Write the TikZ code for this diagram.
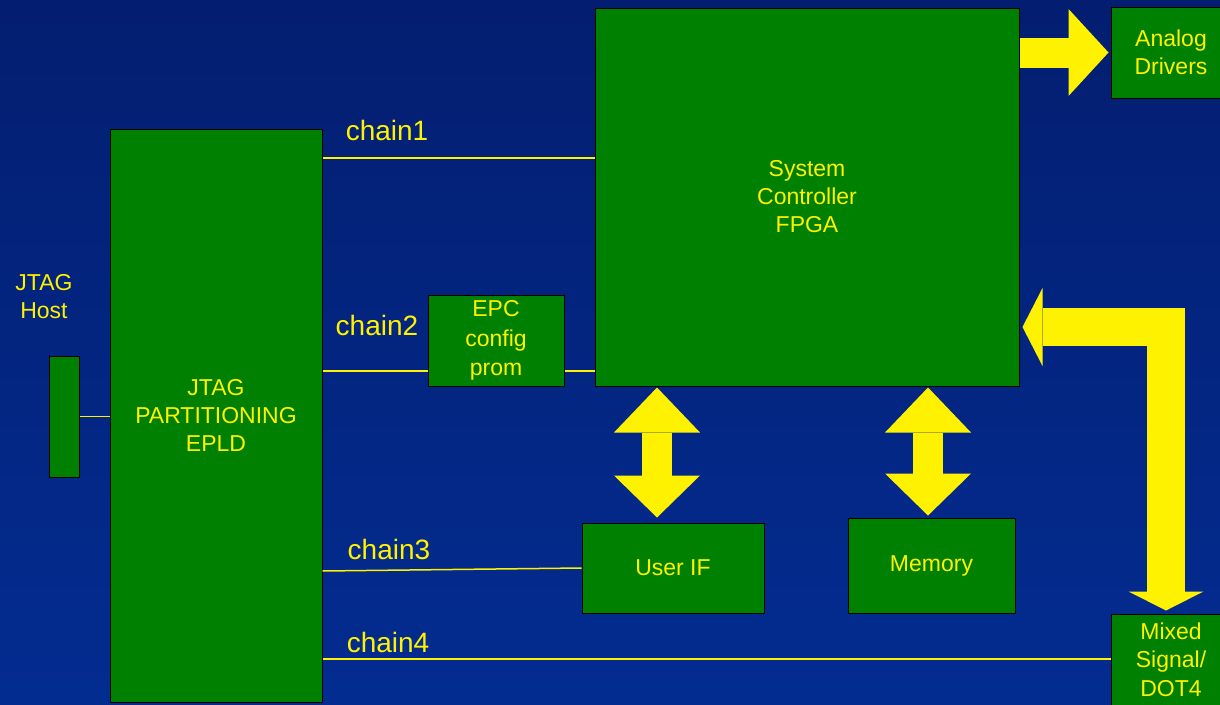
\documentclass[tikz,border=0pt]{standalone}
\usepackage{fontspec}
\setmainfont{Liberation Sans}
\usetikzlibrary{arrows.meta}
\definecolor{boxgreen}{RGB}{0,128,0}
\definecolor{bgtop}{RGB}{3,30,112}
\definecolor{bgbottom}{RGB}{3,44,145}

\begin{document}
\begin{tikzpicture}[x=1pt,y=-1pt]

\tikzset{block/.style={draw=black, line width=1pt, fill=boxgreen, text=yellow,
            font=\fontsize{23}{28}\selectfont, align=center, inner sep=0pt},
        label text/.style={text=yellow, font=\fontsize{23}{28}\selectfont, align=center, inner sep=0pt},
        chain text/.style={text=yellow, font=\fontsize{28}{32}\selectfont, inner sep=0pt},
        wire/.style={draw=yellow, line width=1.5pt},
        fat arrow/.style={draw=yellow, line width=30pt, line join=miter}}

\useasboundingbox (0,0) rectangle (1220,704);
\clip (0,0) rectangle (1220,704);
\shade[top color=bgtop, bottom color=bgbottom] (0,0) rectangle (1220,704);

\node[block, minimum width=30pt, minimum height=121pt] (host) at (64,416.5) {};
\node[label text] (hostlabel) at (44,297) {JTAG\\Host};
\node[block, minimum width=212pt, minimum height=573pt] (epld) at (216,415.5) {JTAG\\PARTITIONING\\EPLD};
\node[block, minimum width=424pt, minimum height=378pt] (fpga) at (807,197) {System\\Controller\\FPGA};
\node[block, minimum width=120pt, minimum height=91pt] (analog) at (1171,52.5) {Analog\\Drivers};
\node[block, minimum width=136pt, minimum height=91pt, font=\fontsize{23}{29.5}\selectfont] (epc) at (496,340.5) {EPC\\config\\prom};
\node[block, minimum width=182pt, minimum height=90pt] (userif) at (673,568) {User IF};
\node[block, minimum width=167pt, minimum height=95pt] (memory) at (931.5,565.5) {Memory};
\node[block, minimum width=120pt, minimum height=91pt, font=\fontsize{23}{28.5}\selectfont] (mixed) at (1171,659.5) {Mixed\\Signal/\\DOT4};

\node[chain text] (chain1) at (387,130) {chain1};
\node[chain text] (chain2) at (377,325) {chain2};
\node[chain text] (chain3) at (389,549) {chain3};
\node[chain text] (chain4) at (388,642) {chain4};

\coordinate (c1) at (0,158);
\coordinate (c2) at (0,371);
\coordinate (c3) at (0,571);
\coordinate (c4) at (0,659);
\coordinate (uarrow) at (657,0);
\coordinate (marrow) at (928,0);
\coordinate (bend) at (1166,327);

\draw[wire] (host.east) -- (epld.west |- host.east);
\draw[wire] (epld.east |- c1) -- (fpga.west |- c1);
\draw[wire] (epld.east |- c2) -- (epc.west |- c2);
\draw[wire] (epc.east |- c2) -- (fpga.west |- c2);
\draw[wire] (epld.east |- c3) -- (userif.west);
\draw[wire] (epld.east |- c4) -- (mixed.west |- c4);

\draw[fat arrow, -{Triangle[length=40pt,width=87pt,line width=0pt]}, shorten >=2pt]
    (fpga.east |- analog.west) -- (analog.west);
\draw[fat arrow, {Triangle[length=45pt,width=86pt,line width=0pt]}-{Triangle[length=42pt,width=86pt,line width=0pt]},
    shorten <=1pt, shorten >=5pt] (uarrow |- fpga.south) -- (uarrow |- userif.north);
\draw[fat arrow, {Triangle[length=45pt,width=86pt,line width=0pt]}-{Triangle[length=42pt,width=86pt,line width=0pt]},
    shorten <=1pt, shorten >=2pt] (marrow |- fpga.south) -- (marrow |- memory.north);
\draw[fat arrow, line width=38pt, {Triangle[length=20pt,width=78pt,line width=0pt]}-{Triangle[length=19pt,width=75pt,line width=0pt]},
    shorten <=3pt, shorten >=3pt] (fpga.east |- bend) -- (bend) -- (bend |- mixed.north);
\end{tikzpicture}
\end{document}
